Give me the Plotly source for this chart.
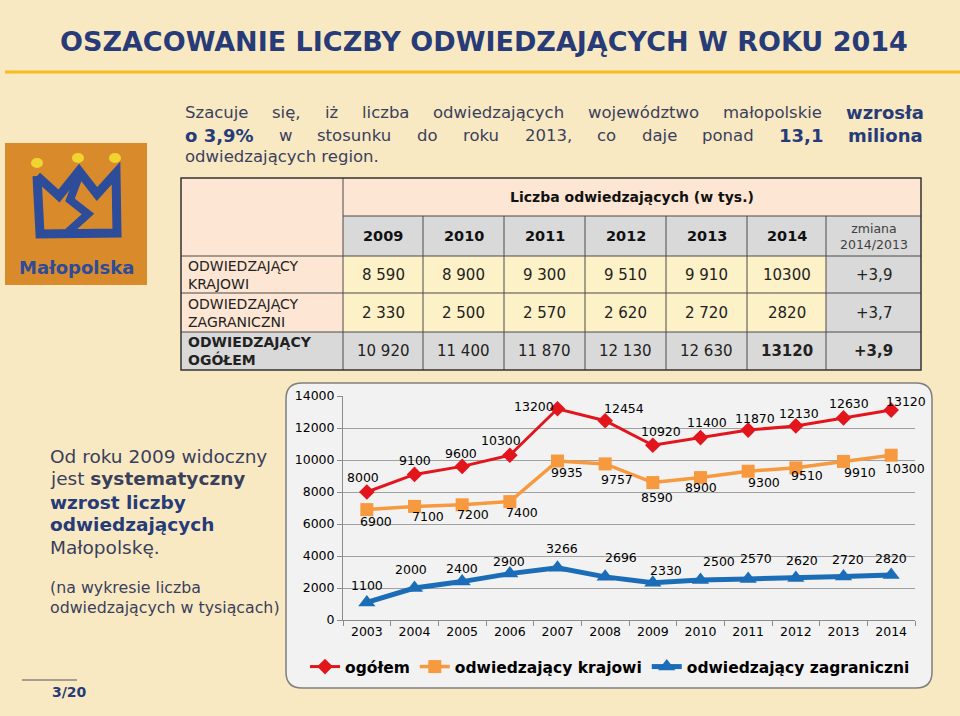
import plotly.graph_objects as go

W, H = 960, 716

# ---------------- data ----------------
years = ["2003", "2004", "2005", "2006", "2007", "2008", "2009", "2010", "2011", "2012", "2013", "2014"]
ogolem = [8000, 9100, 9600, 10300, 13200, 12454, 10920, 11400, 11870, 12130, 12630, 13120]
krajowi = [6900, 7100, 7200, 7400, 9935, 9757, 8590, 8900, 9300, 9510, 9910, 10300]
zagraniczni = [1100, 2000, 2400, 2900, 3266, 2696, 2330, 2500, 2570, 2620, 2720, 2820]
series_names = ["ogółem", "odwiedzający krajowi", "odwiedzający zagraniczni"]
y_ticks = [0, 2000, 4000, 6000, 8000, 10000, 12000, 14000]

tbl_years = ["2009", "2010", "2011", "2012", "2013", "2014"]
tbl_krajowi = ["8 590", "8 900", "9 300", "9 510", "9 910", "10300"]
tbl_zagr = ["2 330", "2 500", "2 570", "2 620", "2 720", "2820"]
tbl_ogolem = ["10 920", "11 400", "11 870", "12 130", "12 630", "13120"]
tbl_zmiana = ["+3,9", "+3,7", "+3,9"]
tbl_labels = ["ODWIEDZAJĄCY<br>KRAJOWI", "ODWIEDZAJĄCY<br>ZAGRANICZNI", "<b>ODWIEDZAJĄCY<br>OGÓŁEM</b>"]

# ---------------- helpers ----------------
def px(x):
    return x / W

def py(y):
    return 1 - y / H

NAVY = "#263B78"
TEXT = "#3A3F5C"
FONT = "DejaVu Sans, Verdana, sans-serif"

shapes = []
annotations = []

def rect(x0, y0, x1, y1, fill, line_color=None, lw=0):
    shapes.append(dict(type="rect", xref="paper", yref="paper",
                       x0=px(x0), x1=px(x1), y0=py(y1), y1=py(y0),
                       fillcolor=fill, line=dict(color=line_color or fill, width=lw),
                       layer="below"))

def line(x0, y0, x1, y1, color, lw):
    shapes.append(dict(type="line", xref="paper", yref="paper",
                       x0=px(x0), x1=px(x1), y0=py(y0), y1=py(y1),
                       line=dict(color=color, width=lw), layer="below"))

def text(x, y, s, size, color="#000000", xanchor="center", bold=False):
    annotations.append(dict(xref="paper", yref="paper", x=px(x), y=py(y),
                            text=s, showarrow=False, xanchor=xanchor, yanchor="middle",
                            align="left" if xanchor == "left" else ("right" if xanchor == "right" else "center"),
                            font=dict(family=FONT, size=size, color=color,
                                      weight="bold" if bold else "normal")))

# approximate DejaVu Sans advance widths (em) for justified layout
REG = dict(zip(" abcdefghijklmnopqrstuvwxyz0123456789,.%S",
               [.318, .613, .635, .550, .635, .615, .352, .635, .634, .278, .278, .579, .278, .974,
                .634, .612, .635, .635, .411, .521, .392, .634, .592, .818, .592, .592, .525]
               + [.636] * 10 + [.318, .318, .950, .635]))
BLD = dict(zip(" abcdefghijklmnopqrstuvwxyz0123456789,.%",
               [.348, .675, .716, .593, .716, .678, .435, .716, .712, .343, .343, .665, .343, 1.042,
                .712, .687, .716, .716, .493, .595, .478, .712, .652, .924, .645, .652, .582]
               + [.696] * 10 + [.380, .380, 1.002]))
PL = {"ę": "e", "ą": "a", "ż": "z", "ó": "o", "ś": "s", "ć": "c", "ł": "l", "ń": "n"}

PS, PB = 16.5, 18

def tw(s, bold):
    tab = BLD if bold else REG
    return sum(tab.get(PL.get(ch, ch), 0.62) for ch in s) * (PB if bold else PS)

def justified(words, y, x0, x1):
    total = sum(tw(w, b) for w, b in words)
    gap = (x1 - x0 - total) / (len(words) - 1)
    x = x0
    for w, b in words:
        text(x, y, w, PB if b else PS, NAVY if b else TEXT, xanchor="left", bold=b)
        x += tw(w, b) + gap

# ---------------- background ----------------
rect(0, 0, W, H, "#F9E9C2")

# title + gold rule
text(484, 42, "OSZACOWANIE LICZBY ODWIEDZAJĄCYCH W ROKU 2014", 27, NAVY, bold=True)
line(5, 72, 960, 72, "#F5BE1E", 3)

# ---------------- paragraph ----------------
justified([("Szacuje", False), ("się,", False), ("iż", False), ("liczba", False),
           ("odwiedzających", False), ("województwo", False), ("małopolskie", False),
           ("wzrosła", True)], 113, 183, 921)
justified([("o 3,9%", True), ("w", False), ("stosunku", False), ("do", False), ("roku", False),
           ("2013,", False), ("co", False), ("daje", False), ("ponad", False), ("13,1", True),
           ("miliona", True)], 135, 183, 921)
text(183, 157, "odwiedzających region.", PS, TEXT, xanchor="left")

# ---------------- logo ----------------
LOGO_BLUE = "#2D4C99"
rect(5, 143, 147, 285, "#D98B2B")
for cx_, cy_ in [(37, 163), (78, 158), (115, 158)]:
    shapes.append(dict(type="circle", xref="paper", yref="paper",
                       x0=px(cx_ - 6), x1=px(cx_ + 6), y0=py(cy_ + 5), y1=py(cy_ - 5),
                       fillcolor="#F0D430", line=dict(width=0)))
crown = [(37, 176), (40, 234), (117, 233), (116, 173), (97, 194), (79, 171), (59, 196), (37, 176)]
path = "M " + " L ".join(f"{px(x)},{py(y)}" for x, y in crown)
shapes.append(dict(type="path", xref="paper", yref="paper", path=path,
                   line=dict(color=LOGO_BLUE, width=9)))
river = [(79, 176), (70, 200), (88, 214), (68, 232)]
path2 = "M " + " L ".join(f"{px(x)},{py(y)}" for x, y in river)
shapes.append(dict(type="path", xref="paper", yref="paper", path=path2,
                   line=dict(color=LOGO_BLUE, width=8)))
text(76, 267, "Małopolska", 18, LOGO_BLUE, bold=True)

# ---------------- table ----------------
cols = [343, 423, 504, 585, 666, 747, 826, 921]
rows = [178, 216, 256, 293, 332, 370]
TL = 181
PEACH = "#FDE6D3"
YEL = "#FDF1C8"
GRAY = "#D9D9D9"
rect(TL, rows[0], cols[0], rows[2], PEACH)
rect(cols[0], rows[0], cols[-1], rows[1], PEACH)
rect(cols[0], rows[1], cols[-1], rows[2], GRAY)
for r in (2, 3):
    rect(TL, rows[r], cols[0], rows[r + 1], PEACH)
    rect(cols[0], rows[r], cols[6], rows[r + 1], YEL)
    rect(cols[6], rows[r], cols[7], rows[r + 1], GRAY)
rect(TL, rows[4], cols[-1], rows[5], GRAY)
BC = "#4A4A4A"
line(cols[0], rows[1], cols[-1], rows[1], BC, 1)
for r in rows[2:5]:
    line(TL, r, cols[-1], r, BC, 1)
line(cols[0], rows[0], cols[0], rows[-1], BC, 1)
for c in cols[1:-1]:
    line(c, rows[1], c, rows[-1], BC, 1)
shapes.append(dict(type="rect", xref="paper", yref="paper", x0=px(TL), x1=px(cols[-1]),
                   y0=py(rows[-1]), y1=py(rows[0]), line=dict(color="#333333", width=1.5),
                   fillcolor="rgba(0,0,0,0)"))

def cy(r):
    return (rows[r] + rows[r + 1]) / 2

def cx(c):
    return (cols[c] + cols[c + 1]) / 2

text((cols[0] + cols[-1]) / 2, cy(0), "Liczba odwiedzających (w tys.)", 14, "#111111", bold=True)
for i, yv in enumerate(tbl_years):
    text(cx(i), cy(1), yv, 14.5, "#111111", bold=True)
text(cx(6), cy(1), "zmiana<br>2014/2013", 12.5, "#404040")
for r, vals in zip((2, 3, 4), (tbl_krajowi, tbl_zagr, tbl_ogolem)):
    for i, v in enumerate(vals):
        text(cx(i), cy(r), v, 15, "#222222", bold=(r == 4 and i == 5))
for k, r in enumerate((2, 3, 4)):
    text(cx(6), cy(r), tbl_zmiana[k], 15, "#222222", bold=(r == 4))
    text(TL + 5, cy(r), tbl_labels[k], 14, "#222222", xanchor="left")

# ---------------- left text ----------------
LS = 18.5
text(48, 456, "Od roku 2009 widoczny", LS, TEXT, xanchor="left")
text(48, 479, "jest <b>systematyczny</b>", LS, TEXT, xanchor="left")
text(48, 502, "<b>wzrost liczby</b>", LS, NAVY, xanchor="left")
text(48, 524, "<b>odwiedzających</b>", LS, NAVY, xanchor="left")
text(48, 547, "Małopolskę.", LS, TEXT, xanchor="left")
text(48, 587, "(na wykresie liczba", 15.8, TEXT, xanchor="left")
text(48, 607, "odwiedzających w tysiącach)", 15.8, TEXT, xanchor="left")

# page number
line(22, 680, 77, 680, "#555555", 1)
text(69, 692, "3/20", 14, NAVY, bold=True)

# ---------------- chart panel (rounded) ----------------
X0, Y0, X1, Y1, R = 286, 383, 932, 688, 16
pts = (f"M {px(X0 + R)},{py(Y0)} L {px(X1 - R)},{py(Y0)} Q {px(X1)},{py(Y0)} {px(X1)},{py(Y0 + R)} "
       f"L {px(X1)},{py(Y1 - R)} Q {px(X1)},{py(Y1)} {px(X1 - R)},{py(Y1)} "
       f"L {px(X0 + R)},{py(Y1)} Q {px(X0)},{py(Y1)} {px(X0)},{py(Y1 - R)} "
       f"L {px(X0)},{py(Y0 + R)} Q {px(X0)},{py(Y0)} {px(X0 + R)},{py(Y0)} Z")
shapes.append(dict(type="path", xref="paper", yref="paper", path=pts,
                   fillcolor="#F2F2F2", line=dict(color="#7F7F7F", width=1.5), layer="below"))

# ---------------- traces ----------------
fig = go.Figure()
fig.add_trace(go.Scatter(x=years, y=ogolem, name=series_names[0], mode="lines+markers",
                         line=dict(color="#E3151C", width=3),
                         marker=dict(symbol="diamond", size=12, color="#E3151C"), cliponaxis=False))
fig.add_trace(go.Scatter(x=years, y=krajowi, name=series_names[1], mode="lines+markers",
                         line=dict(color="#F7993F", width=3.5),
                         marker=dict(symbol="square", size=13, color="#F7993F"), cliponaxis=False))
fig.add_trace(go.Scatter(x=years, y=zagraniczni, name=series_names[2], mode="lines+markers",
                         line=dict(color="#1B6DB7", width=5),
                         marker=dict(symbol="triangle-up", size=15, color="#1B6DB7"), cliponaxis=False))

# data labels: anchored on the data point (category index, value), nudged in pixels
red_shift = [(-4, 15), (0, 14), (-1, 13), (-9, 15), (-24, 2), (19, 12), (8, 14), (6, 15),
             (7, 12), (3, 12), (5, 14), (15, 9)]
orange_shift = [(9, -12), (13, -10), (11, -10), (12, -11), (9, -11), (12, -16), (4, -15),
                (0, -10), (16, -11), (11, -8), (16, -11), (14, -13)]
blue_shift = [(0, 17), (-4, 19), (0, 13), (-1, 12), (4, 19), (16, 19), (13, 12), (18, 19),
              (8, 20), (6, 18), (4, 17), (0, 16)]
for vals, shifts in ((ogolem, red_shift), (krajowi, orange_shift), (zagraniczni, blue_shift)):
    for i, (yv, (dx, dy)) in enumerate(zip(vals, shifts)):
        annotations.append(dict(xref="x", yref="y", x=i, y=yv, text=str(yv), showarrow=False,
                                xshift=dx, yshift=dy, xanchor="center", yanchor="middle",
                                font=dict(family=FONT, size=12.5, color="#000000")))

fig.update_layout(
    width=W, height=H, autosize=False,
    margin=dict(l=0, r=0, t=0, b=0),
    paper_bgcolor="#F9E9C2", plot_bgcolor="rgba(0,0,0,0)",
    shapes=shapes, annotations=annotations,
    showlegend=True,
    legend=dict(orientation="h", x=px(610), y=py(667), xanchor="center", yanchor="middle",
                font=dict(family=FONT, size=15.5, color="#000000", weight="bold"),
                bgcolor="rgba(0,0,0,0)", itemwidth=30, tracegroupgap=0),
    xaxis=dict(domain=[px(343), px(915)], type="category", range=[-0.5, 11.5],
               showgrid=False, showline=True, linecolor="#8C8C8C", linewidth=1,
               ticks="outside", tickson="boundaries", ticklen=5, tickcolor="#8C8C8C",
               tickfont=dict(family=FONT, size=12.5, color="#000000"), fixedrange=True,
               automargin=False),
    yaxis=dict(domain=[py(620), py(396)], range=[0, 14000], tickvals=y_ticks, tickformat="d",
               showgrid=True, gridcolor="#A0A0A0", gridwidth=1,
               showline=True, linecolor="#8C8C8C", linewidth=1,
               ticks="outside", ticklen=5, tickcolor="#8C8C8C", zeroline=False,
               tickfont=dict(family=FONT, size=12.5, color="#000000"), fixedrange=True,
               automargin=False),
)

fig.write_html("out.html", config={"displayModeBar": False},
               post_script="document.body.style.margin='0';document.body.style.overflow='hidden';")
